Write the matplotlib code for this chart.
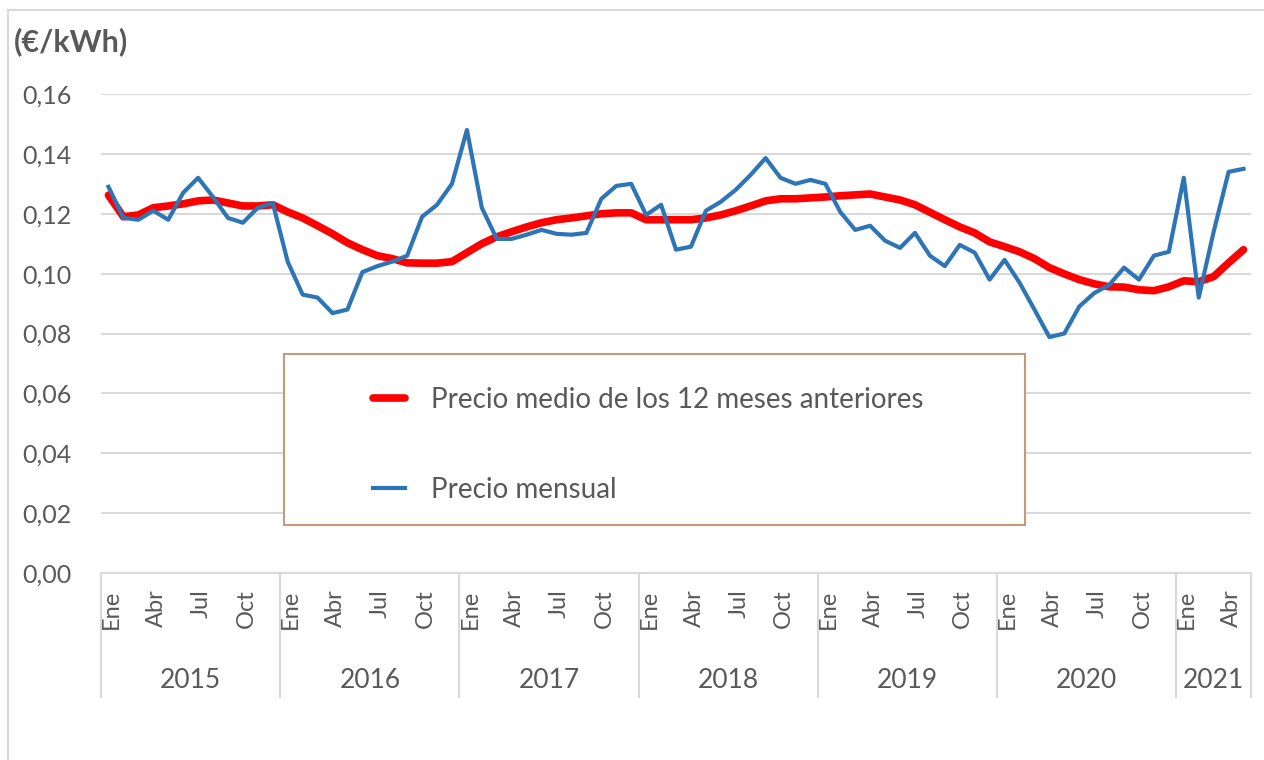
import matplotlib
matplotlib.use("Agg")
import matplotlib.pyplot as plt
import matplotlib.transforms as mtransforms
from matplotlib.lines import Line2D
from matplotlib.patches import Rectangle

plt.rcParams['font.family'] = ['Lato', 'DejaVu Sans']

years = ["2015", "2016", "2017", "2018", "2019", "2020", "2021"]
months_per_year = [12, 12, 12, 12, 12, 12, 5]
month_names = ["Ene", "Feb", "Mar", "Abr", "May", "Jun",
               "Jul", "Ago", "Sep", "Oct", "Nov", "Dic"]
shown_months = ["Ene", "Abr", "Jul", "Oct"]

precio_mensual = [
    0.129, 0.1186, 0.118, 0.121, 0.118, 0.127, 0.132, 0.1256, 0.1186, 0.117, 0.122, 0.1236,
    0.104, 0.093, 0.092, 0.0868, 0.088, 0.1005, 0.1025, 0.104, 0.106, 0.119, 0.123, 0.130,
    0.148, 0.122, 0.1116, 0.1116, 0.113, 0.1146, 0.1133, 0.113, 0.1136, 0.125, 0.1293, 0.130,
    0.1196, 0.123, 0.108, 0.109, 0.121, 0.124, 0.128, 0.133, 0.1386, 0.132, 0.130, 0.1313,
    0.130, 0.1206, 0.1146, 0.116, 0.111, 0.1086, 0.1136, 0.106, 0.1025, 0.1096, 0.107, 0.098,
    0.1046, 0.097, 0.088, 0.0788, 0.080, 0.089, 0.0935, 0.0962, 0.102, 0.098, 0.106, 0.1073,
    0.132, 0.092, 0.114, 0.134, 0.135,
]
precio_medio_12m = [
    0.1262, 0.119, 0.1196, 0.122, 0.1226, 0.1233, 0.1243, 0.1246, 0.1236, 0.1226, 0.1226, 0.123,
    0.1206, 0.1186, 0.116, 0.1133, 0.1103, 0.108, 0.106, 0.105, 0.1036, 0.1035, 0.1035, 0.104,
    0.107, 0.110, 0.1123, 0.114, 0.1156, 0.117, 0.118, 0.1186, 0.1193, 0.120, 0.1203, 0.1203,
    0.118, 0.118, 0.118, 0.118, 0.1186, 0.1196, 0.121, 0.1226, 0.1243, 0.125, 0.125, 0.1253,
    0.1256, 0.126, 0.1263, 0.1266, 0.1256, 0.1246, 0.123, 0.1205, 0.118, 0.1156, 0.1136, 0.1106,
    0.109, 0.1073, 0.105, 0.102, 0.0999, 0.098, 0.0966, 0.0956, 0.0955, 0.0946, 0.0943, 0.0956,
    0.0976, 0.0973, 0.099, 0.1036, 0.108,
]
y_ticks = [0.00, 0.02, 0.04, 0.06, 0.08, 0.10, 0.12, 0.14, 0.16]
y_tick_labels = ["0,00", "0,02", "0,04", "0,06", "0,08", "0,10", "0,12", "0,14", "0,16"]
label_medio = "Precio medio de los 12 meses anteriores"
label_mensual = "Precio mensual"
unit_label = "(€/kWh)"

W, H = 1264, 760
fig = plt.figure(figsize=(W / 100, H / 100), dpi=100)
ax = fig.add_axes([101 / W, (H - 573) / H, (1251 - 101) / W, (573 - 94) / H])

grey_txt = "#595959"
grid_c = "#D9D9D9"

# outer chart border
fig.add_artist(Rectangle((8 / W, -0.1), 1.2, (H - 10) / H + 0.1, transform=fig.transFigure,
                         fill=False, edgecolor=grid_c, lw=1.5))

n = len(precio_mensual)
x = list(range(n))

ax.plot(x, precio_medio_12m, color="#FF0000", lw=5.5, solid_capstyle="round",
        solid_joinstyle="round", label=label_medio, zorder=3)
ax.plot(x, precio_mensual, color="#2E75B6", lw=3.0, solid_joinstyle="round",
        label=label_mensual, zorder=4)

ax.set_xlim(-0.5, n - 0.5)
ax.set_ylim(0, 0.16)
ax.set_yticks(y_ticks)
ax.set_yticklabels(y_tick_labels, fontsize=18, color=grey_txt)
ax.tick_params(axis="y", length=0, pad=21)
ax.grid(axis="y", color=grid_c, lw=1.5)
ax.set_axisbelow(True)
for s in ["top", "right", "left"]:
    ax.spines[s].set_visible(False)
ax.spines["bottom"].set_color(grid_c)
ax.spines["bottom"].set_linewidth(1.5)

# month ticks
xt, xl = [], []
i = 0
for yname, nm in zip(years, months_per_year):
    for m in range(nm):
        if month_names[m] in shown_months:
            xt.append(i + m)
            xl.append(month_names[m])
    i += nm
ax.set_xticks(xt)
ax.set_xticklabels(xl, rotation=90, fontsize=17, color=grey_txt, va="top")
ax.tick_params(axis="x", length=0, pad=12)
shift = mtransforms.ScaledTranslation(3 / 100, 0, fig.dpi_scale_trans)
for lab in ax.get_xticklabels():
    lab.set_transform(lab.get_transform() + shift)

# year labels and separators
trans = mtransforms.blended_transform_factory(ax.transData, ax.transAxes)
sep_bottom = -(697 - 573) / (573 - 94)
year_y = -(681 - 573) / (573 - 94)
start = 0
bounds = [-0.5]
for yname, nm in zip(years, months_per_year):
    ax.text(start + (nm - 1) / 2, year_y, yname, transform=trans, ha="center", va="center",
            fontsize=19, color=grey_txt)
    start += nm
    bounds.append(start - 0.5)
for b in bounds:
    ax.add_line(Line2D([b, b], [0, sep_bottom], transform=trans, color=grid_c, lw=1.5,
                       clip_on=False))

# unit label
fig.text(14 / W, (H - 42) / H, unit_label, fontsize=22, fontweight="bold", color=grey_txt,
         ha="left", va="center")

# legend box (inside the axes so that the legend is drawn on top)
ax.add_patch(Rectangle((284 / W, (H - 525) / H), (1025 - 284) / W, (525 - 354) / H,
                       transform=fig.transFigure, facecolor="white", edgecolor="#C49A7A",
                       lw=1.5, zorder=5, clip_on=False))
leg = ax.legend(loc="upper left", bbox_to_anchor=(359 / W, (H - 373) / H),
                bbox_transform=fig.transFigure, frameon=False, fontsize=20,
                handlelength=1.15, handletextpad=0.95, labelspacing=2.3, borderpad=0)
for t in leg.get_texts():
    t.set_color(grey_txt)
leg.set_zorder(6)

fig.savefig("out.png", dpi=100)
